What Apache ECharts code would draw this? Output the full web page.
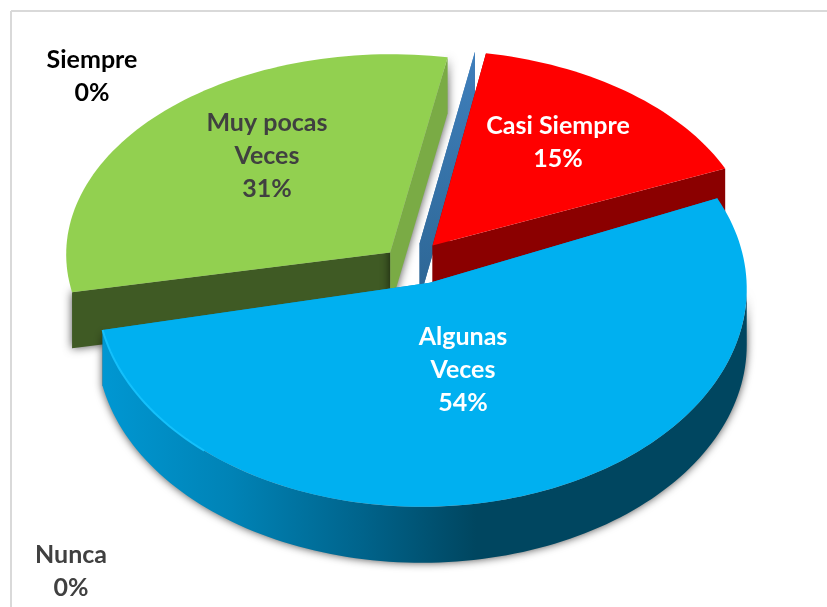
<!DOCTYPE html>
<html>
<head>
<meta charset="utf-8">
<style>html,body{margin:0;padding:0;background:#fff}#c{width:827px;height:607px}</style>
<script src="https://cdn.jsdelivr.net/npm/echarts@6/dist/echarts.min.js"></script>
</head>
<body>
<div id="c"></div>
<script>
// ---- data ----
var categories = ['Siempre', 'Casi Siempre', 'Algunas\nVeces', 'Muy pocas\nVeces', 'Nunca'];
var values = [0, 15.4, 53.8, 30.8, 0];

// ---- look & layout (per category) ----
var drawOrder = [3, 4, 0, 1, 2];
var topColors = ['#3f7fbc', '#ff0000', '#00b0f0', '#92d050', '#3f7fbc'];
var startFace = ['#3f7fbc', '#8b0000', '#0090c8', '#3f5a24', '#3f7fbc'];
var endFace = ['#2d6694', '#8b0000', '#0090c8', '#7aab45', '#2d6694'];
var apexShift = [[1, -7], [0, -9], [7, -8], [0, -4], [1, -7]];
var rimTweak = [[0, 0, 0], [-3, -2, -1], [-1, -2, 0], [1, -2, -4], [0, 0, 0]];
var faceShadow = [0, 0, 0, 10, 0];
var labelColors = ['#000000', '#ffffff', '#ffffff', '#404040', '#404040'];
var labelPos = [[92, 76], [558, 142], [463, 370], [267, 156], [71, 571]];
var CENTER = [413, 271], R = 325, K = 0.65, EXPLODE = 32, DEPTH = 56, START = 10;
var rad = Math.PI / 180;
var total = values.reduce(function (a, b) { return a + b; }, 0);

// angular extent of each slice, from the values
var spans = [], acc = START;
values.forEach(function (v) {
  var a = v / total * 360;
  spans.push([acc, acc + a]);
  acc += a;
});

function pieceGeom(i) {
  var s = spans[i], mid = (s[0] + s[1]) / 2 * rad;
  var cx0 = CENTER[0] + EXPLODE * Math.sin(mid);
  var cy0 = CENTER[1] - EXPLODE * K * Math.cos(mid);
  var ry = 210 + 0.4 * (cy0 - CENTER[1]) + rimTweak[i][2];
  var cx = cx0 + rimTweak[i][0], cy = cy0 + rimTweak[i][1];
  return {
    s: s, ry: ry,
    rim: function (deg, drop) {
      return [cx + R * Math.sin(deg * rad), cy - ry * Math.cos(deg * rad) + (drop || 0)];
    },
    apex: [cx0 + apexShift[i][0], cy0 + apexShift[i][1]]
  };
}
function arcPts(g, a, b, drop) {
  var pts = [], n = Math.max(1, Math.ceil(Math.abs(b - a) / 1.5));
  for (var j = 0; j <= n; j++) pts.push(g.rim(a + (b - a) * j / n, drop));
  return pts;
}
function poly(points, fill, z2, shadow) {
  var style = { fill: fill };
  if (shadow) { style.shadowBlur = shadow; style.shadowColor = 'rgba(0,0,0,0.7)'; }
  return { type: 'polygon', z2: z2, shape: { points: points }, style: style };
}
function shifted(p) { return [p[0], p[1] + DEPTH]; }

function renderItem(params, api) {
  var i = api.value(0), g = pieceGeom(i), kids = [];
  var a = g.s[0], b = g.s[1], base = params.dataIndex * 10;
  var first = g.rim(a), last = g.rim(b);
  if (api.value(1) === 0) {
    // an empty slice only shows its cut face
    kids.push(poly([g.apex, first, shifted(first), shifted(g.apex)], {
      type: 'linear', x: 0, y: 0, x2: 0, y2: 1,
      colorStops: [{ offset: 0, color: startFace[i] }, { offset: 1, color: endFace[i] }]
    }, base + 1));
  } else {
    // cut faces
    kids.push(poly([g.apex, first, shifted(first), shifted(g.apex)], startFace[i], base + 1, faceShadow[i]));
    kids.push(poly([g.apex, last, shifted(last), shifted(g.apex)], endFace[i], base + 1, faceShadow[i]));
    // outer wall of the front slice
    if (i === 2) {
      var w0 = Math.max(a, 90), w1 = Math.min(b, 270);
      var outer = arcPts(g, w0, w1, 0).concat(arcPts(g, w1, w0, DEPTH));
      kids.push(poly(outer, {
        type: 'linear', x: 1, y: 0, x2: 0, y2: 0,
        colorStops: [
          { offset: 0, color: '#004660' }, { offset: 0.42, color: '#004660' },
          { offset: 0.6, color: '#00648c' }, { offset: 0.8, color: '#0083b6' },
          { offset: 1, color: '#0097d2' }]
      }, base + 2, 8));
    }
    // top face
    kids.push(poly([g.apex].concat(arcPts(g, a, b, 0)), topColors[i], base + 3));
    // bright rim on the near-left edge
    if (i === 2) {
      kids.push({
        type: 'polyline', z2: base + 4, shape: { points: arcPts(g, 222, b, 0) },
        style: { fill: null, stroke: '#14c0fb', lineWidth: 2 }
      });
    }
  }
  return { type: 'group', children: kids };
}

function renderLabel(params, api) {
  var i = api.value(0);
  return {
    type: 'text', z2: 1000,
    style: {
      text: categories[i] + '\n' + Math.round(api.value(1)) + '%',
      x: labelPos[i][0], y: labelPos[i][1],
      fill: labelColors[i],
      font: 'bold 25px Lato, Carlito, sans-serif',
      lineHeight: 33, align: 'center', verticalAlign: 'middle'
    }
  };
}

var seriesData = drawOrder.map(function (i) { return [i, values[i]]; });

var chart = echarts.init(document.getElementById('c'), null, { renderer: 'canvas' });
chart.setOption({
  animation: false,
  backgroundColor: '#ffffff',
  graphic: [
    { type: 'line', z: -1, shape: { x1: 11, y1: 11, x2: 827, y2: 11 }, style: { stroke: '#d9d9d9', lineWidth: 2 } },
    { type: 'line', z: -1, shape: { x1: 11, y1: 11, x2: 11, y2: 607 }, style: { stroke: '#d9d9d9', lineWidth: 2 } }
  ],
  series: [
    { type: 'custom', coordinateSystem: 'none', silent: true, data: seriesData, renderItem: renderItem, z: 2 },
    { type: 'custom', coordinateSystem: 'none', silent: true, data: seriesData, renderItem: renderLabel, z: 3 }
  ]
});
</script>
</body>
</html>
